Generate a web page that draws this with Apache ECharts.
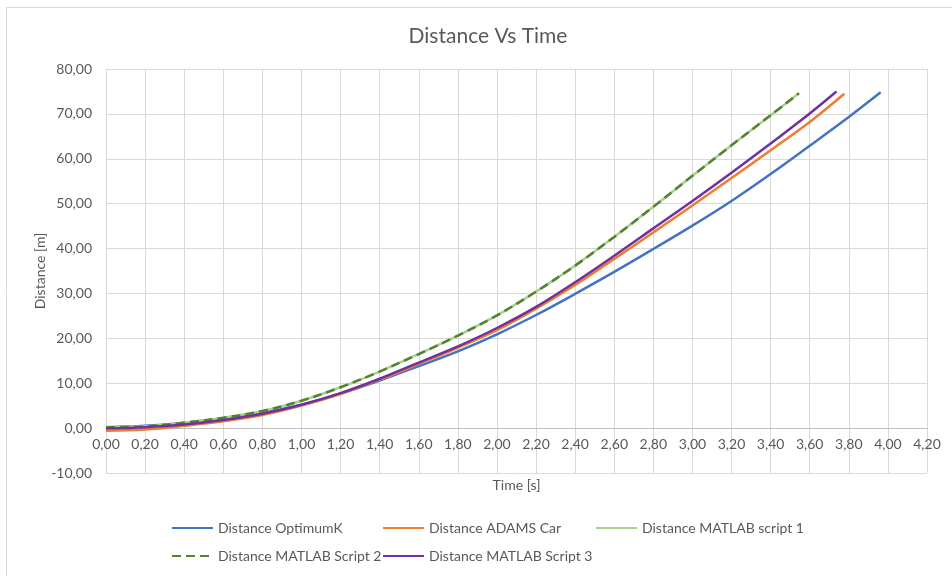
<!DOCTYPE html>
<html>
<head>
<meta charset="utf-8">
<style>
  html, body { margin: 0; padding: 0; background: #ffffff; }
  #chart { width: 952px; height: 576px; }
</style>
<script src="https://cdn.jsdelivr.net/npm/echarts@6/dist/echarts.min.js"></script>
</head>
<body>
<div id="chart"></div>
<script>
// Time [s] and distance [m] samples for each model
const timeOptimumK = [0, 0.2, 0.4, 0.6, 0.8, 1.0, 1.2, 1.4, 1.6, 1.8, 2.0, 2.2, 2.4, 2.6, 2.8, 3.0, 3.2, 3.4, 3.6, 3.8, 3.963];
const distOptimumK = [0.2, 0.5, 1.2, 2.2, 3.4, 5.2, 7.7, 10.6, 13.8, 17.1, 20.9, 25.2, 29.9, 34.8, 39.9, 45.1, 50.6, 56.6, 62.9, 69.3, 74.8];

const timeAdams = [0, 0.2, 0.4, 0.6, 0.8, 1.0, 1.2, 1.4, 1.6, 1.8, 2.0, 2.2, 2.4, 2.6, 2.8, 3.0, 3.2, 3.4, 3.6, 3.777];
const distAdams = [-0.6, -0.3, 0.5, 1.5, 2.9, 5.0, 7.6, 10.8, 14.3, 17.9, 21.8, 26.6, 31.9, 37.7, 43.6, 49.6, 55.7, 61.9, 68.2, 74.5];

const timeMatlab1 = [0, 0.2, 0.4, 0.6, 0.8, 1.0, 1.2, 1.4, 1.6, 1.8, 2.0, 2.2, 2.4, 2.6, 2.8, 3.0, 3.2, 3.4, 3.545];
const distMatlab1 = [0.2, 0.4, 1.2, 2.3, 3.8, 6.1, 9.1, 12.6, 16.5, 20.6, 25.1, 30.4, 36.2, 42.6, 49.3, 56.2, 63.0, 69.7, 74.6];

const timeMatlab2 = [0, 0.2, 0.4, 0.6, 0.8, 1.0, 1.2, 1.4, 1.6, 1.8, 2.0, 2.2, 2.4, 2.6, 2.8, 3.0, 3.2, 3.4, 3.545];
const distMatlab2 = [0.2, 0.4, 1.2, 2.3, 3.8, 6.1, 9.1, 12.6, 16.5, 20.6, 25.1, 30.4, 36.2, 42.6, 49.3, 56.2, 63.0, 69.7, 74.6];

const timeMatlab3 = [0, 0.2, 0.4, 0.6, 0.8, 1.0, 1.2, 1.4, 1.6, 1.8, 2.0, 2.2, 2.4, 2.6, 2.8, 3.0, 3.2, 3.4, 3.6, 3.737];
const distMatlab3 = [-0.1, 0.2, 0.8, 1.8, 3.2, 5.2, 7.8, 11.0, 14.6, 18.2, 22.3, 27.0, 32.5, 38.4, 44.5, 50.6, 56.9, 63.4, 70.1, 75.0];

const seriesNames = [
  'Distance OptimumK',
  'Distance ADAMS Car',
  'Distance MATLAB script 1',
  'Distance MATLAB Script 2',
  'Distance MATLAB Script 3'
];

const zip = (xs, ys) => xs.map((x, i) => [x, ys[i]]);
const fmt = v => v.toFixed(2).replace('.', ',');

const FONT = 'Lato, "Open Sans", sans-serif';
const TEXT = '#595959';

// Plot area and distance range; the time axis is drawn on the zero-distance line
const GRID = { left: 106, right: 25, top: 69, bottom: 103 };
const Y_MIN = -10, Y_MAX = 80;
const plotHeight = 576 - GRID.top - GRID.bottom;
const zeroOffset = -plotHeight * (0 - Y_MIN) / (Y_MAX - Y_MIN);

function makeSeries(name, xs, ys, color, extra) {
  return Object.assign({
    name: name,
    type: 'line',
    data: zip(xs, ys),
    smooth: 0.35,
    symbol: 'none',
    lineStyle: { color: color, width: 2.5 },
    itemStyle: { color: color },
    emphasis: { disabled: true }
  }, extra || {});
}

// One legend per entry so the entries sit on a fixed two-row layout
function legendAt(name, left, top) {
  return {
    data: [name],
    left: left,
    top: top,
    itemWidth: 41,
    itemHeight: 14,
    padding: 0,
    itemStyle: { color: 'rgba(0,0,0,0)', borderColor: 'rgba(0,0,0,0)', borderWidth: 0, opacity: 0 },
    textStyle: { color: TEXT, fontSize: 14, fontFamily: FONT },
    selectedMode: false
  };
}

const chart = echarts.init(document.getElementById('chart'), null, { renderer: 'canvas' });

chart.setOption({
  backgroundColor: '#ffffff',
  animation: false,
  textStyle: { fontFamily: FONT },
  title: {
    text: 'Distance Vs Time',
    left: 483,
    top: 21,
    textAlign: 'center',
    textStyle: { color: TEXT, fontSize: 21, fontWeight: 'normal', fontFamily: FONT }
  },
  legend: [
    legendAt(seriesNames[0], 171, 521),
    legendAt(seriesNames[1], 382, 521),
    legendAt(seriesNames[2], 595, 521),
    legendAt(seriesNames[3], 171, 549),
    legendAt(seriesNames[4], 382, 549)
  ],
  grid: Object.assign({ containLabel: false }, GRID),
  xAxis: {
    type: 'value',
    min: 0,
    max: 4.2,
    interval: 0.2,
    offset: zeroOffset,
    name: 'Time [s]',
    nameLocation: 'middle',
    nameGap: 50,
    nameMoveOverlap: false,
    nameTextStyle: { color: TEXT, fontSize: 14, fontFamily: FONT },
    axisLine: { show: true, onZero: false, lineStyle: { color: '#BFBFBF', width: 1 } },
    axisTick: { show: false },
    axisLabel: { color: TEXT, fontSize: 14, fontFamily: FONT, margin: 9, formatter: fmt },
    splitLine: { show: true, lineStyle: { color: '#D9D9D9', width: 1 } }
  },
  yAxis: {
    type: 'value',
    min: Y_MIN,
    max: Y_MAX,
    interval: 10,
    name: 'Distance [m]',
    nameLocation: 'middle',
    nameGap: 59,
    nameMoveOverlap: false,
    nameRotate: 90,
    nameTextStyle: { color: TEXT, fontSize: 14, fontFamily: FONT },
    axisLine: { show: false },
    axisTick: { show: false },
    axisLabel: { color: TEXT, fontSize: 14, fontFamily: FONT, margin: 14, formatter: fmt },
    splitLine: { show: true, lineStyle: { color: '#D9D9D9', width: 1 } }
  },
  series: [
    makeSeries(seriesNames[0], timeOptimumK, distOptimumK, '#4472C4'),
    makeSeries(seriesNames[1], timeAdams, distAdams, '#ED7D31'),
    makeSeries(seriesNames[2], timeMatlab1, distMatlab1, '#A9D18E'),
    makeSeries(seriesNames[3], timeMatlab2, distMatlab2, '#548235', {
      lineStyle: { color: '#548235', width: 2.5, type: [9, 5] }
    }),
    makeSeries(seriesNames[4], timeMatlab3, distMatlab3, '#7030A0')
  ],
  graphic: [
    {
      type: 'polyline',
      silent: true,
      shape: { points: [[6.5, 576], [6.5, 7.5], [952, 7.5]] },
      style: { stroke: '#D9D9D9', lineWidth: 1, fill: null }
    }
  ]
});
</script>
</body>
</html>
